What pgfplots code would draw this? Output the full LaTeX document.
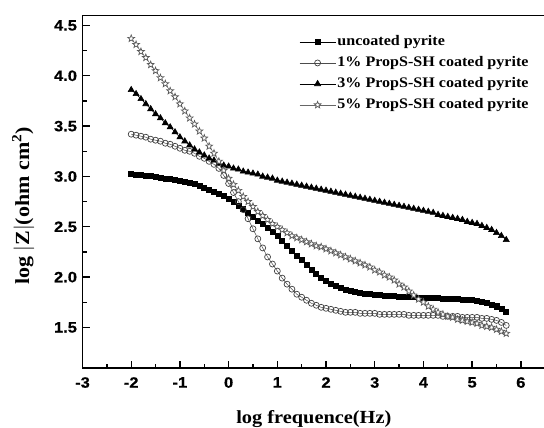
\documentclass[border=0pt]{standalone}
\usepackage{pgfplots}
\pgfplotsset{compat=1.18}
\usepackage{fontspec}
\setmainfont{Liberation Serif}
\newfontfamily\tickfont{Liberation Sans}[FakeStretch=1.1,FakeBold=0.6]
\newfontfamily\labfont{Liberation Serif}[FakeStretch=1.1]
\newcommand{\tl}[1]{\mbox{\tickfont\bfseries\fontsize{15}{15}\selectfont #1}}
\pgfdeclareplotmark{ostar}{%
  \pgfpathmoveto{\pgfpointpolar{90}{\pgfplotmarksize}}%
  \pgfpathlineto{\pgfpointpolar{126}{0.42\pgfplotmarksize}}%
  \pgfpathlineto{\pgfpointpolar{162}{\pgfplotmarksize}}%
  \pgfpathlineto{\pgfpointpolar{198}{0.42\pgfplotmarksize}}%
  \pgfpathlineto{\pgfpointpolar{234}{\pgfplotmarksize}}%
  \pgfpathlineto{\pgfpointpolar{270}{0.42\pgfplotmarksize}}%
  \pgfpathlineto{\pgfpointpolar{306}{\pgfplotmarksize}}%
  \pgfpathlineto{\pgfpointpolar{342}{0.42\pgfplotmarksize}}%
  \pgfpathlineto{\pgfpointpolar{18}{\pgfplotmarksize}}%
  \pgfpathlineto{\pgfpointpolar{54}{0.42\pgfplotmarksize}}%
  \pgfpathclose
  \pgfusepathqfillstroke
}
\pgfplotstableread{
x y
-2.0 3.03
-1.9 3.02
-1.8 3.02
-1.7 3.01
-1.6 3.01
-1.5 3.00
-1.4 2.99
-1.3 2.98
-1.2 2.98
-1.1 2.97
-1.0 2.96
-0.9 2.95
-0.8 2.94
-0.7 2.93
-0.6 2.91
-0.5 2.89
-0.4 2.87
-0.3 2.85
-0.2 2.83
-0.1 2.81
0.0 2.78
0.1 2.75
0.2 2.71
0.3 2.68
0.4 2.64
0.5 2.60
0.6 2.56
0.7 2.53
0.8 2.49
0.9 2.45
1.0 2.41
1.1 2.36
1.2 2.31
1.3 2.26
1.4 2.21
1.5 2.17
1.6 2.12
1.7 2.07
1.8 2.03
1.9 1.99
2.0 1.96
2.1 1.93
2.2 1.91
2.3 1.89
2.4 1.87
2.5 1.86
2.6 1.85
2.7 1.84
2.8 1.83
2.9 1.83
3.0 1.82
3.1 1.82
3.2 1.81
3.3 1.81
3.4 1.81
3.5 1.80
3.6 1.80
3.7 1.80
3.8 1.80
3.9 1.79
4.0 1.79
4.1 1.79
4.2 1.79
4.3 1.79
4.4 1.78
4.5 1.78
4.6 1.78
4.7 1.78
4.8 1.77
4.9 1.77
5.0 1.77
5.1 1.76
5.2 1.75
5.3 1.74
5.4 1.72
5.5 1.71
5.6 1.69
5.7 1.66
}\uncoated
\pgfplotstableread{
x y
-2.0 3.42
-1.9 3.41
-1.8 3.40
-1.7 3.39
-1.6 3.37
-1.5 3.36
-1.4 3.35
-1.3 3.33
-1.2 3.32
-1.1 3.30
-1.0 3.28
-0.9 3.26
-0.8 3.25
-0.7 3.23
-0.6 3.20
-0.5 3.18
-0.4 3.15
-0.3 3.12
-0.2 3.08
-0.1 3.01
0.0 2.93
0.1 2.84
0.2 2.75
0.3 2.67
0.4 2.58
0.5 2.48
0.6 2.38
0.7 2.29
0.8 2.20
0.9 2.13
1.0 2.06
1.1 1.99
1.2 1.93
1.3 1.88
1.4 1.83
1.5 1.80
1.6 1.77
1.7 1.74
1.8 1.72
1.9 1.70
2.0 1.69
2.1 1.68
2.2 1.67
2.3 1.66
2.4 1.65
2.5 1.65
2.6 1.65
2.7 1.64
2.8 1.64
2.9 1.64
3.0 1.64
3.1 1.63
3.2 1.63
3.3 1.63
3.4 1.63
3.5 1.63
3.6 1.63
3.7 1.62
3.8 1.62
3.9 1.62
4.0 1.62
4.1 1.62
4.2 1.62
4.3 1.62
4.4 1.61
4.5 1.61
4.6 1.61
4.7 1.61
4.8 1.60
4.9 1.60
5.0 1.60
5.1 1.60
5.2 1.59
5.3 1.59
5.4 1.58
5.5 1.57
5.6 1.55
5.7 1.52
}\onepct
\pgfplotstableread{
x y
-2.0 3.86
-1.9 3.82
-1.8 3.77
-1.7 3.72
-1.6 3.67
-1.5 3.62
-1.4 3.58
-1.3 3.53
-1.2 3.49
-1.1 3.44
-1.0 3.39
-0.9 3.35
-0.8 3.31
-0.7 3.27
-0.6 3.24
-0.5 3.21
-0.4 3.18
-0.3 3.16
-0.2 3.13
-0.1 3.11
0.0 3.10
0.1 3.08
0.2 3.07
0.3 3.05
0.4 3.04
0.5 3.03
0.6 3.02
0.7 3.00
0.8 2.99
0.9 2.98
1.0 2.96
1.1 2.95
1.2 2.94
1.3 2.93
1.4 2.92
1.5 2.91
1.6 2.90
1.7 2.89
1.8 2.88
1.9 2.87
2.0 2.86
2.1 2.85
2.2 2.84
2.3 2.83
2.4 2.82
2.5 2.81
2.6 2.80
2.7 2.79
2.8 2.78
2.9 2.77
3.0 2.76
3.1 2.75
3.2 2.74
3.3 2.73
3.4 2.72
3.5 2.71
3.6 2.70
3.7 2.69
3.8 2.68
3.9 2.67
4.0 2.66
4.1 2.65
4.2 2.64
4.3 2.62
4.4 2.61
4.5 2.60
4.6 2.59
4.7 2.58
4.8 2.57
4.9 2.55
5.0 2.54
5.1 2.53
5.2 2.51
5.3 2.49
5.4 2.47
5.5 2.44
5.6 2.41
5.7 2.37
}\threepct
\pgfplotstableread{
x y
-2.0 4.37
-1.9 4.31
-1.8 4.24
-1.7 4.18
-1.6 4.11
-1.5 4.05
-1.4 3.98
-1.3 3.92
-1.2 3.85
-1.1 3.79
-1.0 3.72
-0.9 3.65
-0.8 3.58
-0.7 3.52
-0.6 3.45
-0.5 3.38
-0.4 3.30
-0.3 3.23
-0.2 3.15
-0.1 3.06
0.0 2.98
0.1 2.92
0.2 2.86
0.3 2.80
0.4 2.75
0.5 2.70
0.6 2.65
0.7 2.61
0.8 2.57
0.9 2.53
1.0 2.50
1.1 2.47
1.2 2.44
1.3 2.41
1.4 2.39
1.5 2.37
1.6 2.35
1.7 2.33
1.8 2.31
1.9 2.30
2.0 2.28
2.1 2.26
2.2 2.24
2.3 2.22
2.4 2.20
2.5 2.18
2.6 2.16
2.7 2.14
2.8 2.12
2.9 2.10
3.0 2.07
3.1 2.05
3.2 2.02
3.3 2.00
3.4 1.97
3.5 1.93
3.6 1.90
3.7 1.86
3.8 1.82
3.9 1.78
4.0 1.75
4.1 1.71
4.2 1.68
4.3 1.65
4.4 1.63
4.5 1.61
4.6 1.60
4.7 1.58
4.8 1.57
4.9 1.56
5.0 1.55
5.1 1.54
5.2 1.52
5.3 1.51
5.4 1.50
5.5 1.48
5.6 1.46
5.7 1.44
}\fivepct
\begin{document}
\begin{tikzpicture}
\begin{axis}[
  width=462.7pt, height=352.3pt, scale only axis,
  xmin=-3, xmax=6.5, ymin=1.1, ymax=4.6,
  axis line style={line width=1.6pt},
  tick style={line width=1.3pt, black},
  tick align=inside,
  major tick length=7pt, minor tick length=4pt,
  xtick pos=bottom, ytick pos=left,
  xtick={-3,-2,-1,0,1,2,3,4,5,6},
  xticklabels={\tl{-3},\tl{-2},\tl{-1},\tl{0},\tl{1},\tl{2},\tl{3},\tl{4},\tl{5},\tl{6}},
  ytick={1.5,2,2.5,3,3.5,4,4.5},
  yticklabels={\tl{1.5},\tl{2.0},\tl{2.5},\tl{3.0},\tl{3.5},\tl{4.0},\tl{4.5}},
  minor x tick num=1, minor y tick num=1,
  ticklabel style={font=\tickfont\bfseries\fontsize{15}{15}\selectfont},
  xticklabel style={yshift=-6pt},
  yticklabel style={xshift=-2pt},
  xlabel={log frequence(Hz)},
  ylabel={log $|$Z$|$(ohm cm\textsuperscript{2})},
  xlabel style={at={(axis description cs:0.5,-0.159)}, anchor=base, font=\labfont\bfseries\fontsize{18.5}{20}\selectfont},
  ylabel style={at={(axis description cs:-0.1156,0.459)}, anchor=base, font=\labfont\bfseries\fontsize{20}{22}\selectfont},
  legend cell align=left,
  legend style={at={(axis description cs:0.468,0.955)}, anchor=north west, draw=none, fill=none,
    inner xsep=0pt, inner ysep=0pt,
    font=\labfont\bfseries\fontsize{14.6}{16}\selectfont,
    nodes={text height=10.5pt, text depth=3.5pt, inner ysep=3.5pt, inner xsep=1.5pt}},
  legend image code/.code={\draw[mark repeat=2,mark phase=2,line width=0.7pt] plot coordinates {(0pt,0pt) (18pt,0pt) (36pt,0pt)};},
]
\addplot[black, line width=0.6pt, mark=square*, mark size=2.5pt, mark options={fill=black}] table {\uncoated};
\addlegendentry{uncoated pyrite}
\addplot[black!70, line width=0.5pt, mark=o, mark size=3pt, mark options={fill=white, draw=black!75, line width=0.7pt}] table {\onepct};
\addlegendentry{1\% PropS-SH coated pyrite}
\addplot[black, line width=0.6pt, mark=triangle*, mark size=3.5pt, mark options={fill=black}] table {\threepct};
\addlegendentry{3\% PropS-SH coated pyrite}
\addplot[black!60, line width=0.5pt, mark=ostar, mark size=3.6pt, mark options={fill=white, draw=black!65, line width=0.7pt}] table {\fivepct};
\addlegendentry{5\% PropS-SH coated pyrite}
\end{axis}
\pgfresetboundingbox
\path ([shift={(-82.5pt,-59.3pt)}]current axis.south west) rectangle ([shift={(-1.2pt,15.4pt)}]current axis.north east);
\end{tikzpicture}
\end{document}
